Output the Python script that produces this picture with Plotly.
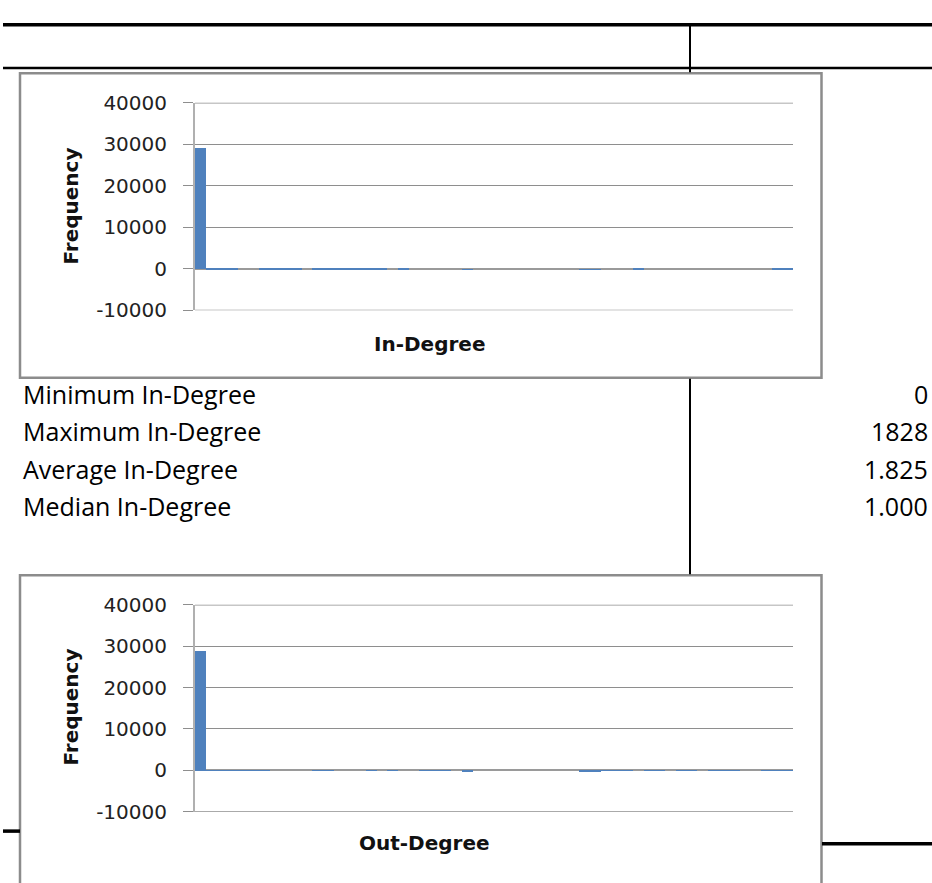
import plotly.graph_objects as go

W, H = 932, 883

# Histogram bins (56 equal-width bins) and frequencies
bins = [str(i) for i in range(56)]
in_degree_freq = [
    29200, 300, 280, 260, 0, 0, 250, 240, 230, 220,
    0, 210, 200, 200, 190, 190, 180, 180, 0, 220,
    0, 0, 0, 0, 0, -40, 0, 0, 0, 0,
    0, 0, 0, 0, 0, 0, -40, -40, 0, 0,
    0, 260, 0, 0, 0, 0, 0, 0, 0, 0,
    0, 0, 0, 0, 250, 250,
]
out_degree_freq = [
    29000, 40, 40, 40, 40, 40, 40, 0, 0, 0,
    0, 40, 40, 0, 0, 0, 40, 0, 40, 0,
    0, 40, 40, 40, 0, -280, 0, 0, 0, 0,
    0, 0, 0, 0, 0, 0, -280, -280, 40, 40,
    40, 0, 40, 40, 0, 40, 40, 0, 40, 40,
    40, 0, 0, 40, 40, 40,
]
y_min, y_max = -10000, 40000
y_ticks = [-10000, 0, 10000, 20000, 30000, 40000]
y_tick_text = ["-10000", "0", "10000", "20000", "30000", "40000"]

stat_labels = ["Minimum In-Degree", "Maximum In-Degree", "Average In-Degree", "Median In-Degree"]
stat_values = ["0", "1828", "1.825", "1.000"]

BAR = "#4F81BD"
GRID = "#8e8e8e"


def px(x):
    return x / W


def py(y):
    return 1 - y / H


fig = go.Figure()
fig.add_trace(go.Bar(x=bins, y=in_degree_freq, marker=dict(color=BAR, line=dict(width=0)),
                     xaxis="x", yaxis="y", showlegend=False))
fig.add_trace(go.Bar(x=bins, y=out_degree_freq, marker=dict(color=BAR, line=dict(width=0)),
                     xaxis="x2", yaxis="y2", showlegend=False))

xaxis_common = dict(
    type="category", range=[-0.5, len(bins) - 0.5], showticklabels=False,
    showgrid=False, zeroline=False, showline=False, ticks="", fixedrange=True,
)
yaxis_common = dict(
    range=[y_min, y_max], tickvals=y_ticks, ticktext=y_tick_text,
    showgrid=True, gridcolor=GRID, gridwidth=1.4,
    zeroline=True, zerolinecolor="#9a9a9a", zerolinewidth=2,
    showline=True, linecolor="#b0b0b0", linewidth=2,
    ticks="outside", ticklen=10, tickcolor=GRID, tickwidth=1.4,
    ticklabelstandoff=12,
    tickfont=dict(family="DejaVu Sans", size=20, color="#222222"),
    fixedrange=True,
)

fig.update_layout(
    width=W, height=H,
    margin=dict(l=0, r=0, t=0, b=0),
    paper_bgcolor="white", plot_bgcolor="rgba(0,0,0,0)",
    bargap=0,
    xaxis=dict(domain=[px(195), px(793)], anchor="y", **xaxis_common),
    yaxis=dict(domain=[py(306.7), py(93.3)], anchor="x", **yaxis_common),
    xaxis2=dict(domain=[px(195), px(793)], anchor="y2", **xaxis_common),
    yaxis2=dict(domain=[py(822), py(609.3)], anchor="x2", **yaxis_common),
)

shapes = []
# Chart frames
for top, bottom in [(63, 376), (579, 905)]:
    shapes.append(dict(type="rect", xref="paper", yref="paper",
                       x0=px(20), x1=px(821.5), y0=py(bottom), y1=py(top),
                       line=dict(color="#8c8c8c", width=2.5), fillcolor="white", layer="below"))

# Gridlines at the top and bottom of each value range
for xr, yr in [("x", "y"), ("x2", "y2")]:
    for v in (y_min, y_max):
        shapes.append(dict(type="line", xref=f"{xr} domain", yref=yr, x0=0, x1=1, y0=v, y1=v,
                           line=dict(color=GRID, width=1.4)))


# Table rules
def hline(y, x0, x1, w):
    shapes.append(dict(type="line", xref="paper", yref="paper", x0=px(x0), x1=px(x1),
                       y0=py(y), y1=py(y), line=dict(color="black", width=w)))


def vline(x, y0, y1, w):
    shapes.append(dict(type="line", xref="paper", yref="paper", x0=px(x), x1=px(x),
                       y0=py(y0), y1=py(y1), line=dict(color="black", width=w)))


hline(13, 3, 932, 3.5)
hline(57.5, 3, 932, 2.5)
vline(690, 13, 62, 2)
vline(690, 377, 578, 2)
hline(842, 3, 20, 3.5)
hline(855, 822, 932, 3.5)

fig.update_layout(shapes=shapes)

annotations = []
title_font = dict(family="DejaVu Sans", size=20, color="#111111")
annotations.append(dict(text="<b>In-Degree</b>", x=px(429.5), y=py(341), xref="paper", yref="paper",
                        showarrow=False, xanchor="center", yanchor="middle", font=title_font))
annotations.append(dict(text="<b>Out-Degree</b>", x=px(424), y=py(854), xref="paper", yref="paper",
                        showarrow=False, xanchor="center", yanchor="middle", font=title_font))
for yc in (200, 715):
    annotations.append(dict(text="<b>Frequency</b>", x=px(71), y=py(yc), xref="paper", yref="paper",
                            showarrow=False, textangle=-90, xanchor="center", yanchor="middle",
                            font=title_font))

row_font = dict(family="Open Sans", size=25, color="black")
for i, (lab, val) in enumerate(zip(stat_labels, stat_values)):
    yc = 392.5 + i * 38.5
    annotations.append(dict(text=lab, x=px(21), y=py(yc), xref="paper", yref="paper",
                            showarrow=False, xanchor="left", yanchor="middle", font=row_font))
    annotations.append(dict(text=val, x=px(930), y=py(yc), xref="paper", yref="paper",
                            showarrow=False, xanchor="right", yanchor="middle", font=row_font))

fig.update_layout(annotations=annotations)

fig.write_html("out.html")
